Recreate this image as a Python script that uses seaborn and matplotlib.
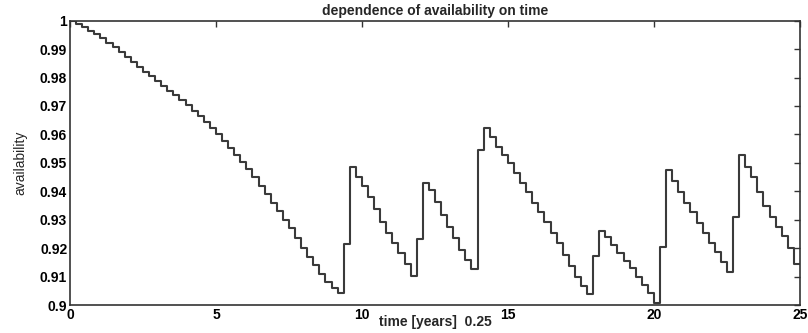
import matplotlib
matplotlib.use('Agg')
import matplotlib.pyplot as plt
import matplotlib.ticker as mticker
import numpy as np
import pandas as pd
import seaborn as sns

# availability per time step (120 steps over 25 years)
availability = [
    1.0000, 0.9988, 0.9976, 0.9964, 0.9952, 0.9940, 0.9923, 0.9906, 0.9889, 0.9872,
    0.9855, 0.9838, 0.9821, 0.9804, 0.9788, 0.9771, 0.9754, 0.9737, 0.9720, 0.9702,
    0.9683, 0.9663, 0.9643, 0.9622, 0.9600, 0.9577, 0.9553, 0.9528, 0.9503, 0.9477,
    0.9450, 0.9420, 0.9390, 0.9360, 0.9330, 0.9300, 0.9270, 0.9235, 0.9200, 0.9170,
    0.9140, 0.9110, 0.9080, 0.9060, 0.9041, 0.9215, 0.9484, 0.9451, 0.9419, 0.9379,
    0.9338, 0.9293, 0.9254, 0.9217, 0.9182, 0.9144, 0.9103, 0.9231, 0.9430, 0.9404,
    0.9363, 0.9317, 0.9275, 0.9235, 0.9193, 0.9158, 0.9127, 0.9545, 0.9624, 0.9592,
    0.9557, 0.9528, 0.9498, 0.9463, 0.9430, 0.9399, 0.9360, 0.9328, 0.9293, 0.9254,
    0.9217, 0.9176, 0.9137, 0.9100, 0.9067, 0.9039, 0.9172, 0.9261, 0.9238, 0.9211,
    0.9182, 0.9155, 0.9129, 0.9100, 0.9070, 0.9043, 0.9007, 0.9205, 0.9475, 0.9437,
    0.9399, 0.9360, 0.9328, 0.9287, 0.9254, 0.9219, 0.9188, 0.9152, 0.9117, 0.9308,
    0.9528, 0.9484, 0.9449, 0.9399, 0.9348, 0.9308, 0.9275, 0.9243, 0.9199, 0.9145,
]
years_total = 25
x_ticks = [0, 5, 10, 15, 20, 25]
y_ticks = [0.9, 0.91, 0.92, 0.93, 0.94, 0.95, 0.96, 0.97, 0.98, 0.99, 1.0]

time = np.linspace(0, years_total, len(availability) + 1)
df = pd.DataFrame({'time': time, 'availability': availability + [availability[-1]]})

sns.set_style('white')
plt.rcParams['font.family'] = ['Liberation Sans', 'DejaVu Sans']

fig, ax = plt.subplots(figsize=(8.08, 3.33), dpi=100)
fig.subplots_adjust(left=0.0866, right=0.990, top=0.938, bottom=0.084)

sns.lineplot(data=df, x='time', y='availability', drawstyle='steps-post',
             color='#3a3a3a', linewidth=1.5, sort=False, ax=ax)

ax.set_xlim(0, 25)
ax.set_ylim(0.9, 1.0)
ax.set_xticks(x_ticks)
ax.set_yticks(y_ticks)
ax.yaxis.set_major_formatter(mticker.FuncFormatter(lambda v, p: '%g' % round(v, 2)))
ax.tick_params(direction='in', length=4, width=1, colors='#333333', top=True, right=True,
               labelsize=10, pad=2)
for lab in ax.get_xticklabels() + ax.get_yticklabels():
    lab.set_fontweight('bold')
    lab.set_color('black')
for sp in ax.spines.values():
    sp.set_visible(True)
    sp.set_color('#333333')
    sp.set_linewidth(1.2)

ax.set_title('dependence of availability on time', fontsize=10, fontweight='bold', pad=4)
ax.set_xlabel('time [years]  0.25', fontsize=10, fontweight='bold', labelpad=-5)
ax.set_ylabel('availability', fontsize=10, labelpad=9)

plt.savefig('out.png', dpi=100)
